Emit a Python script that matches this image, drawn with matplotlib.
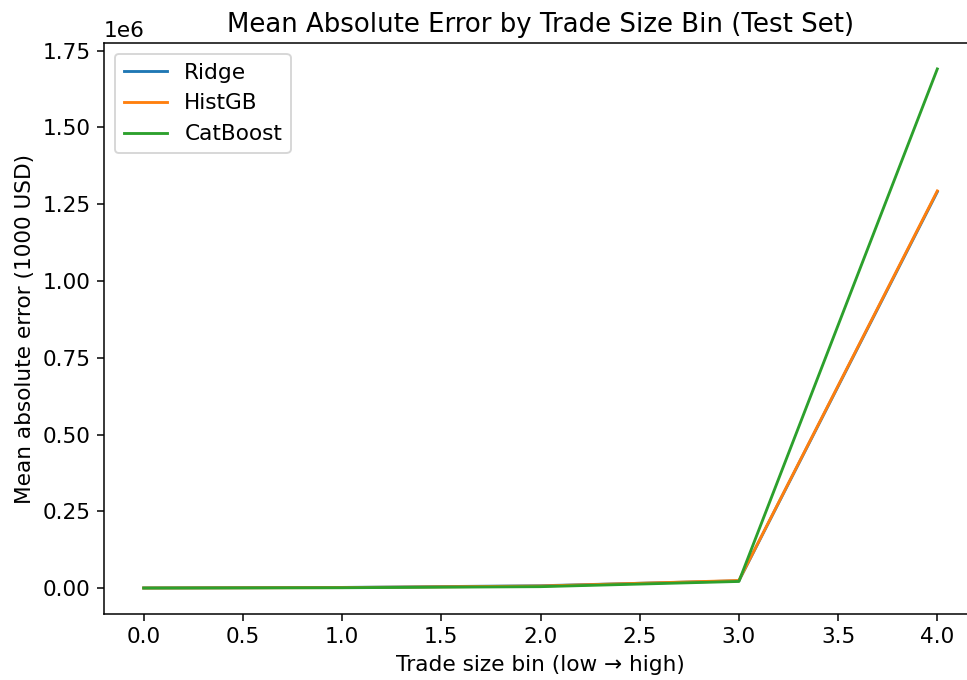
import matplotlib
matplotlib.use("Agg")
import matplotlib.pyplot as plt

bins = [0, 1, 2, 3, 4]
series_names = ["Ridge", "HistGB", "CatBoost"]
ridge = [800, 2500, 8000, 24000, 1290000]
histgb = [600, 2000, 7000, 25000, 1293000]
catboost = [500, 1500, 5000, 22000, 1690000]

plt.rcParams["font.size"] = 11.4

dpi = 137
fig = plt.figure(figsize=(967 / dpi, 680 / dpi), dpi=dpi)
ax = fig.add_axes([104 / 967, 1 - 614 / 680, 873 / 967, 571 / 680])

for name, vals in zip(series_names, [ridge, histgb, catboost]):
    ax.plot(bins, vals, label=name)

ax.set_title("Mean Absolute Error by Trade Size Bin (Test Set)")
ax.set_xlabel("Trade size bin (low → high)")
ax.set_ylabel("Mean absolute error (1000 USD)")
ax.legend(loc="upper left")

fig.savefig("out.png", dpi=dpi)
